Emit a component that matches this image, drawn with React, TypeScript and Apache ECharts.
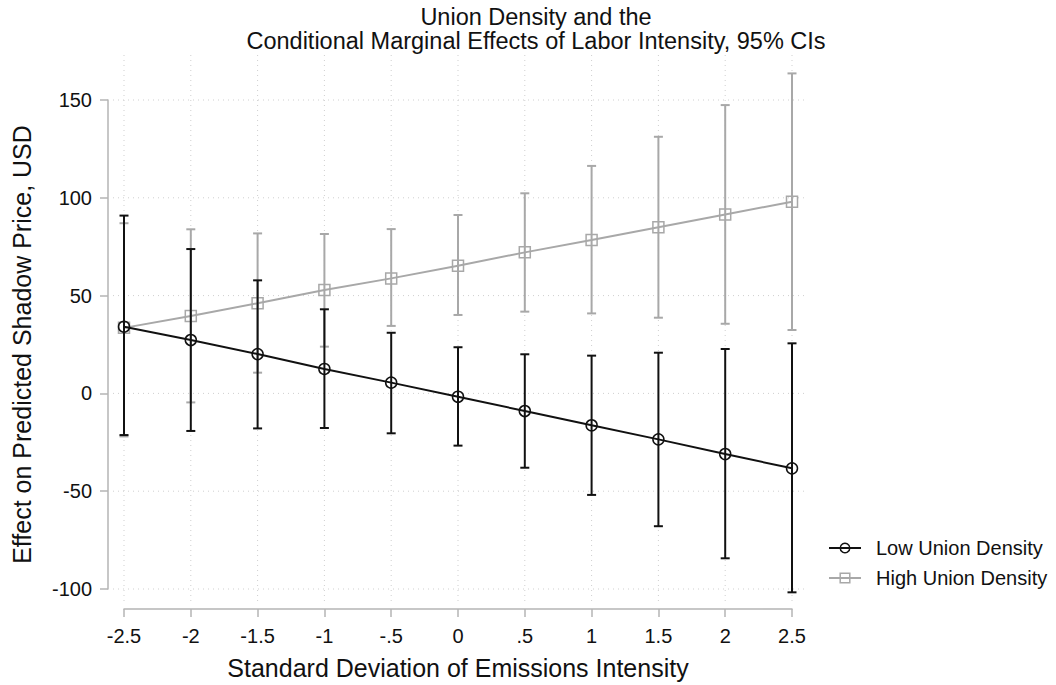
import React, { useEffect, useRef } from "react";
import * as echarts from "echarts";

const xValues = [-2.5, -2, -1.5, -1, -0.5, 0, 0.5, 1, 1.5, 2, 2.5];
const xTickLabels = ["-2.5", "-2", "-1.5", "-1", "-.5", "0", ".5", "1", "1.5", "2", "2.5"];
const yTicks = [-100, -50, 0, 50, 100, 150];

const lowEst = [34.1, 27.3, 20.1, 12.5, 5.5, -1.7, -9.0, -16.3, -23.5, -31.0, -38.3];
const lowLo = [-21.3, -19.2, -17.9, -17.7, -20.4, -26.7, -38.0, -51.9, -67.9, -84.3, -101.7];
const lowHi = [90.9, 73.8, 57.8, 43.0, 31.0, 23.6, 20.0, 19.3, 20.8, 22.7, 25.6];

const highEst = [33.5, 39.6, 46.1, 52.9, 58.8, 65.3, 72.1, 78.4, 84.9, 91.5, 98.0];
const highLo = [-22.0, -4.6, 10.6, 23.9, 34.5, 40.1, 41.8, 40.9, 38.7, 35.6, 32.4];
const highHi = [87.0, 83.9, 81.8, 81.5, 84.0, 91.2, 102.3, 116.3, 131.2, 147.4, 163.6];

const titleLines = ["Union Density and the", "Conditional Marginal Effects of Labor Intensity, 95% CIs"];
const xTitle = "Standard Deviation of Emissions Intensity";
const yTitle = "Effect on Predicted Shadow Price, USD";
const seriesNames = ["Low Union Density", "High Union Density"];

const BLACK = "#111111";
const GRAY = "#a8a8a8";
const AXIS = "#b4b4b4";
const FONT = "'Liberation Sans', Arial, sans-serif";

function errorBarSeries(lo: number[], hi: number[], color: string, width: number, z: number) {
  return {
    type: "custom",
    silent: true,
    z,
    clip: false,
    data: xValues.map((x, i) => [x, lo[i], hi[i]]),
    renderItem: (params: any, api: any) => {
      const x = api.value(0);
      const a = api.coord([x, api.value(1)]);
      const b = api.coord([x, api.value(2)]);
      const cap = 4.5;
      const style = { stroke: color, lineWidth: width };
      return {
        type: "group",
        children: [
          { type: "line", shape: { x1: a[0], y1: a[1], x2: b[0], y2: b[1] }, style },
          { type: "line", shape: { x1: a[0] - cap, y1: a[1], x2: a[0] + cap, y2: a[1] }, style },
          { type: "line", shape: { x1: b[0] - cap, y1: b[1], x2: b[0] + cap, y2: b[1] }, style },
        ],
      };
    },
  };
}

function gridLineSeries(values: number[], vertical: boolean) {
  return {
    type: "custom",
    silent: true,
    z: 0,
    clip: false,
    data: values.map((v) => [v]),
    renderItem: (params: any, api: any) => {
      const cs = params.coordSys;
      const v = api.value(0);
      const style = { stroke: "#cfcfcf", lineWidth: 1, lineDash: [1, 4] };
      if (vertical) {
        const px = api.coord([v, 0])[0];
        return { type: "line", shape: { x1: px, y1: cs.y - 45, x2: px, y2: cs.y + cs.height + 14 }, style };
      }
      const py = api.coord([0, v])[1];
      return { type: "line", shape: { x1: cs.x - 11, y1: py, x2: cs.x + cs.width + 13, y2: py }, style };
    },
  };
}

export default function App() {
  const ref = useRef<HTMLDivElement>(null);
  useEffect(() => {
    if (!ref.current) return;
    const chart = echarts.init(ref.current, null, { renderer: "svg" });
    const option: any = {
      animation: false,
      backgroundColor: "#ffffff",
      textStyle: { fontFamily: FONT },
      title: {
        text: titleLines.join("\n"),
        left: 531,
        top: 0,
        textAlign: "center",
        textStyle: { fontFamily: FONT, fontSize: 23.5, fontWeight: "normal", color: "#111", lineHeight: 24 },
      },
      legend: {
        orient: "vertical",
        left: 823,
        top: 533,
        itemWidth: 32,
        itemHeight: 12,
        itemGap: 10,
        selectedMode: false,
        textStyle: { fontFamily: FONT, fontSize: 20, color: "#111", padding: [0, 0, 0, 10] },
        data: [
          {
            name: seriesNames[0],
            itemStyle: { color: "rgba(0,0,0,0)", borderColor: BLACK, borderWidth: 1.5 },
            lineStyle: { color: BLACK, width: 2 },
          },
          {
            name: seriesNames[1],
            itemStyle: { color: "rgba(0,0,0,0)", borderColor: GRAY, borderWidth: 1.5 },
            lineStyle: { color: GRAY, width: 2 },
          },
        ],
      },
      grid: { left: 124, top: 100, width: 668, height: 489, containLabel: false },
      xAxis: {
        type: "value",
        min: -2.5,
        max: 2.5,
        interval: 0.5,
        offset: 20,
        name: xTitle,
        nameLocation: "middle",
        nameGap: 46,
        nameTextStyle: { fontFamily: FONT, fontSize: 25, color: "#111" },
        axisLine: { show: true, onZero: false, lineStyle: { color: AXIS, width: 1.5 } },
        axisTick: { show: true, length: 8, lineStyle: { color: AXIS, width: 1.5 } },
        axisLabel: {
          margin: 17,
          fontFamily: FONT,
          fontSize: 20,
          color: "#111",
          formatter: (v: number) => {
            const i = xValues.findIndex((x) => Math.abs(x - v) < 1e-9);
            return i >= 0 ? xTickLabels[i] : "";
          },
        },
        splitLine: { show: false },
      },
      yAxis: {
        type: "value",
        min: yTicks[0],
        max: yTicks[yTicks.length - 1],
        interval: 50,
        offset: 16,
        name: yTitle,
        nameLocation: "middle",
        nameGap: 74,
        nameRotate: 90,
        nameTextStyle: { fontFamily: FONT, fontSize: 25, color: "#111" },
        axisLine: { show: true, onZero: false, lineStyle: { color: AXIS, width: 1.5 } },
        axisTick: { show: true, length: 8, lineStyle: { color: AXIS, width: 1.5 } },
        axisLabel: { margin: 16, fontFamily: FONT, fontSize: 20, color: "#111" },
        splitLine: { show: false },
      },
      series: [
        gridLineSeries(xValues, true),
        gridLineSeries(yTicks, false),
        errorBarSeries(highLo, highHi, GRAY, 2, 2),
        {
          name: seriesNames[1],
          type: "line",
          z: 3,
          data: xValues.map((x, i) => [x, highEst[i]]),
          symbol: "rect",
          symbolSize: 11,
          showSymbol: true,
          clip: false,
          lineStyle: { color: GRAY, width: 2 },
          itemStyle: { color: "rgba(0,0,0,0)", borderColor: GRAY, borderWidth: 1.5 },
          emphasis: { disabled: true },
        },
        errorBarSeries(lowLo, lowHi, BLACK, 2, 4),
        {
          name: seriesNames[0],
          type: "line",
          z: 5,
          data: xValues.map((x, i) => [x, lowEst[i]]),
          symbol: "circle",
          symbolSize: 11,
          showSymbol: true,
          clip: false,
          lineStyle: { color: BLACK, width: 2 },
          itemStyle: { color: "rgba(0,0,0,0)", borderColor: BLACK, borderWidth: 1.5 },
          emphasis: { disabled: true },
        },
      ],
    };
    chart.setOption(option);
    return () => chart.dispose();
  }, []);
  return <div ref={ref} style={{ position: "fixed", left: 0, top: 0, width: 1056, height: 685, background: "#fff" }} />;
}
